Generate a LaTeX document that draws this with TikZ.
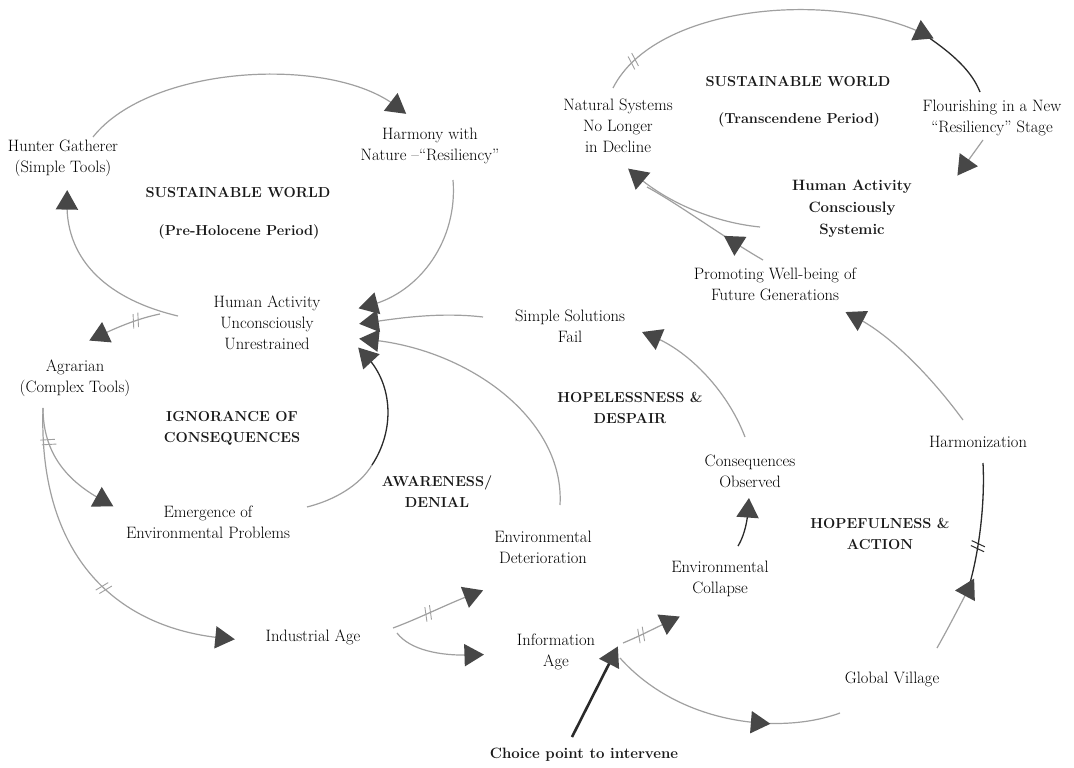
\documentclass[tikz,border=0pt]{standalone}
\usetikzlibrary{shapes.geometric, decorations.markings}
\definecolor{linegray}{HTML}{A0A0A0}
\definecolor{linedark}{HTML}{2A2A2A}
\definecolor{tipfill}{HTML}{474747}
\begin{document}
\begin{tikzpicture}[x=1pt,y=1pt,
  lbl/.style={align=center, font=\fontsize{16.5}{21}\selectfont, inner sep=1pt, text=black},
  hdr/.style={align=center, font=\fontsize{14.5}{21}\selectfont\bfseries, inner sep=1pt, text=black!90},
  tri/.style={regular polygon, regular polygon sides=3, fill=tipfill, draw=none, inner sep=0pt, minimum size=26pt},
  flow/.style={draw=linegray, line width=1.2pt},
  flowdark/.style={draw=linedark, line width=1.3pt},
  tipat/.style={postaction={decorate, decoration={markings,
      mark=at position #1 with {\node[tri, transform shape, rotate=-90] {};}}}},
  tipend/.style={tipat=0.9995},
  delayat/.style={postaction={decorate, decoration={markings,
      mark=at position #1 with {\draw[draw=linegray, line width=0.9pt]
        (-4.5pt,-7pt) -- (-0.5pt,7pt) (0.5pt,-7pt) -- (4.5pt,7pt);}}}},
  delaydarkat/.style={postaction={decorate, decoration={markings,
      mark=at position #1 with {\draw[draw=linedark, line width=1pt]
        (-4.5pt,-7pt) -- (-0.5pt,7pt) (0.5pt,-7pt) -- (4.5pt,7pt);}}}},
]
\fill[white] (0,0) rectangle (1074,-768);
\useasboundingbox (0,0) rectangle (1074,-768);

% ---- stage labels ----
\node[lbl] (hg)  at (63,-158)  {Hunter Gatherer\\(Simple Tools)};
\node[lbl] (hn)  at (430,-146) {Harmony with\\Nature –“Resiliency”};
\node[lbl] (hau) at (267,-323) {Human Activity\\Unconsciously\\Unrestrained};
\node[lbl] (ag)  at (75,-378)  {Agrarian\\(Complex Tools)};
\node[lbl] (em)  at (208,-522) {Emergence of\\Environmental Problems};
\node[lbl] (ia)  at (313,-637) {Industrial Age};
\node[lbl] (ed)  at (543,-547) {Environmental\\Deterioration};
\node[lbl] (inf) at (556,-652) {Information\\Age};
\node[lbl] (ssf) at (570,-326) {Simple Solutions\\Fail};
\node[lbl] (co)  at (750,-471) {Consequences\\Observed};
\node[lbl] (ec)  at (720,-579) {Environmental\\Collapse};
\node[lbl] (hz)  at (978,-442) {Harmonization};
\node[lbl] (gv)  at (892,-679) {Global Village};
\node[lbl] (pw)  at (775,-284) {Promoting Well-being of\\Future Generations};
\node[lbl] (ns)  at (618,-126) {Natural Systems\\No Longer\\in Decline};
\node[lbl] (fl)  at (992,-118) {Flourishing in a New\\“Resiliency” Stage};
\node[hdr, font=\fontsize{15}{22}\selectfont\bfseries] (hac) at (852,-209) {Human Activity\\Consciously\\Systemic};
\node[hdr, font=\fontsize{15}{21}\selectfont\bfseries] (cp) at (584,-755) {Choice point to intervene};

% ---- phase headings ----
\node[hdr] (swa)  at (238,-193) {SUSTAINABLE WORLD};
\node[hdr] (swap) at (239,-232) {(Pre-Holocene Period)};
\node[hdr] (swb)  at (798,-82)  {SUSTAINABLE WORLD};
\node[hdr] (swbp) at (799,-120) {(Transcendene Period)};
\node[hdr] (ign)  at (232,-428) {IGNORANCE OF\\CONSEQUENCES};
\node[hdr] (awa)  at (437,-492) {AWARENESS/\\DENIAL};
\node[hdr] (hop)  at (630,-408) {HOPELESSNESS \&\\DESPAIR};
\node[hdr] (hfa)  at (880,-534) {HOPEFULNESS \&\\ACTION};

% ---- pre-Holocene loop ----
\draw[flow, tipend] ([shift={(30,21)}]hg.center) .. controls (150,-65) and (330,-55) .. ([shift={(-34,40)}]hn.center);
\draw[flow, tipend] ([shift={(23,-34)}]hn.center) .. controls (458,-240) and (420,-292) .. ([shift={(104,18)}]hau.center);
\draw[flow, tipend] ([shift={(-89,7)}]hau.center) .. controls (110,-300) and (66,-262) .. ([shift={(4,-45)}]hg.center);
\draw[flow, tipend, delayat=0.4] ([shift={(-107,9)}]hau.center) .. controls (140,-318) and (120,-326) .. ([shift={(26,43)}]ag.center);

% ---- feedback into unconscious activity ----
\draw[flow, tipend] ([shift={(-87,9)}]ssf.center) .. controls (440,-312) and (400,-318) .. ([shift={(105,1)}]hau.center);
\draw[flow, tipend] ([shift={(17,42)}]ed.center) .. controls (565,-420) and (470,-350) .. ([shift={(105,-17)}]hau.center);
\coordinate (emk) at (372,-465);
\draw[flow] ([shift={(99,15)}]em.center) .. controls (335,-500) and (360,-485) .. (emk);
\draw[flowdark, tipend] (emk) .. controls (395,-430) and (393,-385) .. ([shift={(100,-34)}]hau.center);

% ---- agrarian to industrial ----
\draw[flow, tipend, delayat=0.3] ([shift={(-32,-30)}]ag.center) .. controls (43,-460) and (75,-485) .. ([shift={(-106,22)}]em.center);
\draw[flow, tipend, delayat=0.6] ([shift={(-32,-30)}]ag.center) .. controls (38,-560) and (120,-628) .. ([shift={(-91,-1)}]ia.center);
\draw[flow, tipend, delayat=0.45] ([shift={(80,9)}]ia.center) .. controls (420,-618) and (445,-605) .. ([shift={(-72,-48)}]ed.center);
\draw[flow, tipend] ([shift={(84,4)}]ia.center) .. controls (410,-650) and (440,-656) .. ([shift={(-85,-3)}]inf.center);

% ---- information age branches ----
\draw[flow, tipend, delayat=0.4] ([shift={(67,9)}]inf.center) .. controls (640,-636) and (655,-628) .. ([shift={(-52,-43)}]ec.center);
\draw[flow, tipat=0.65] ([shift={(64,-6)}]inf.center) .. controls (680,-725) and (780,-735) .. ([shift={(-52,-34)}]gv.center);
\draw[draw=linedark, line width=2.6pt, tipend] ([shift={(-12,18)}]cp.center) -- ([shift={(56,-6)}]inf.center);

% ---- despair loop ----
\draw[flowdark, tipend] ([shift={(18,33)}]ec.center) .. controls (743,-538) and (747,-525) .. ([shift={(-2,-40)}]co.center);
\draw[flow, tipend] ([shift={(-5,34)}]co.center) .. controls (728,-392) and (690,-352) .. ([shift={(84,-11)}]ssf.center);

% ---- hope loop ----
\coordinate (gvk) at (968,-590);
\draw[flowdark, delaydarkat=0.35] (gvk) .. controls (980,-550) and (985,-500) .. ([shift={(5,-21)}]hz.center);
\draw[flow, tipend] ([shift={(45,31)}]gv.center) .. controls (950,-625) and (960,-605) .. (gvk);
\draw[flow, tipend] ([shift={(-15,22)}]hz.center) .. controls (930,-375) and (890,-335) .. ([shift={(82,-34)}]pw.center);

% ---- transcendence loop ----
\draw[flow, tipat=0.24] ([shift={(-12,24)}]pw.center) .. controls (720,-235) and (680,-205) .. ([shift={(29,-61)}]ns.center);
\draw[flow, tipend] ([shift={(-92,-18)}]hac.center) .. controls (710,-222) and (665,-200) .. ([shift={(20,-51)}]ns.center);
\coordinate (flk) at (922,-33);
\draw[flowdark] (flk) .. controls (955,-55) and (972,-72) .. ([shift={(-12,26)}]fl.center);
\draw[flow, tipend, delayat=0.1] ([shift={(-5,38)}]ns.center) .. controls (655,-5) and (830,10) .. (flk);
\draw[flow, tipend] ([shift={(-9,-22)}]fl.center) -- ([shift={(113,44)}]hac.center);
\end{tikzpicture}
\end{document}
